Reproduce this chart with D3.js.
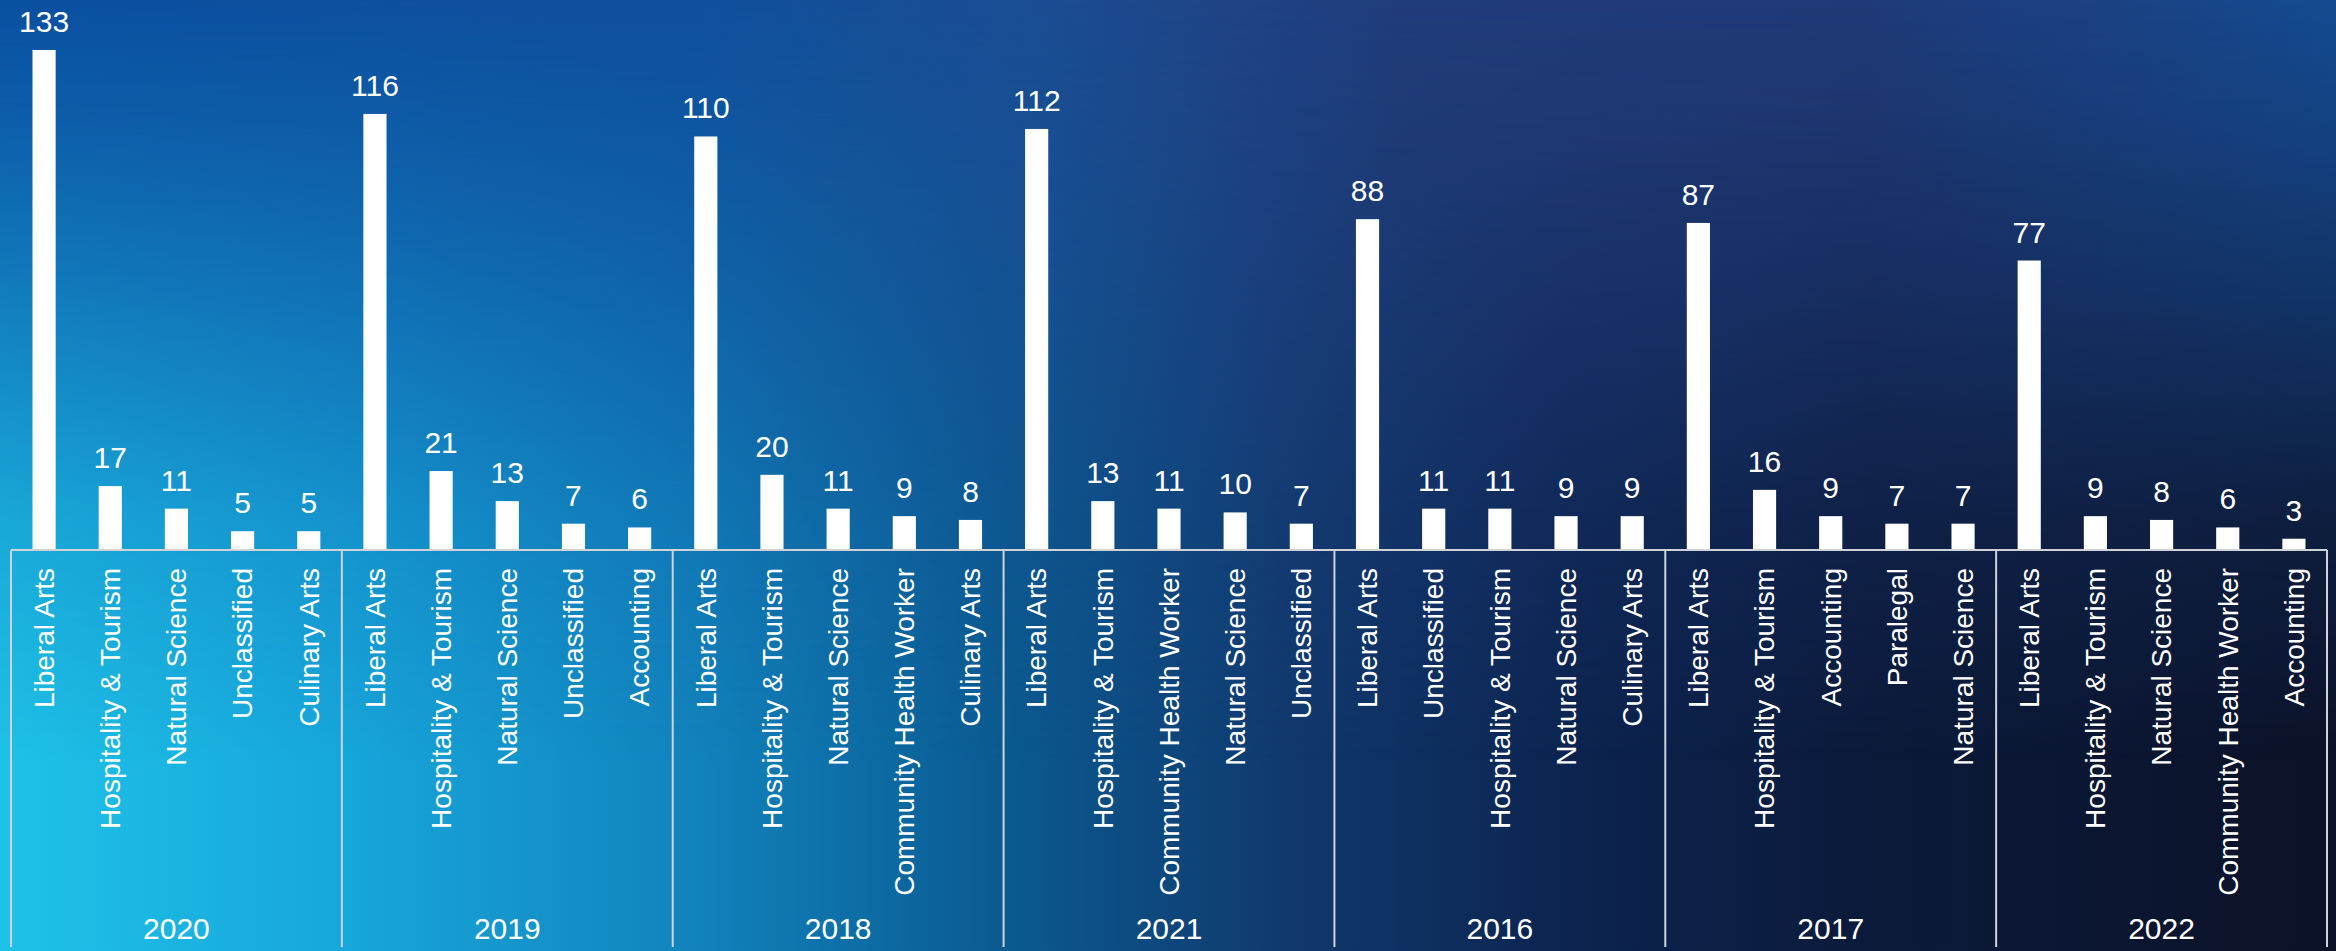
<!DOCTYPE html>
<html>
<head>
<meta charset="utf-8">
<script src="https://cdn.jsdelivr.net/npm/d3@7"></script>
<style>
  html, body { margin: 0; padding: 0; background: #0d1a3a; }
  svg { display: block; }
  text { font-family: "Liberation Sans", Arial, sans-serif; fill: #ffffff; }
</style>
</head>
<body>
<svg id="chart" width="2336" height="951"></svg>
<script>
const years = ["2020", "2019", "2018", "2021", "2016", "2017", "2022"];
const categories = [
  "Liberal Arts", "Hospitality & Tourism", "Natural Science", "Unclassified", "Culinary Arts",
  "Liberal Arts", "Hospitality & Tourism", "Natural Science", "Unclassified", "Accounting",
  "Liberal Arts", "Hospitality & Tourism", "Natural Science", "Community Health Worker", "Culinary Arts",
  "Liberal Arts", "Hospitality & Tourism", "Community Health Worker", "Natural Science", "Unclassified",
  "Liberal Arts", "Unclassified", "Hospitality & Tourism", "Natural Science", "Culinary Arts",
  "Liberal Arts", "Hospitality & Tourism", "Accounting", "Paralegal", "Natural Science",
  "Liberal Arts", "Hospitality & Tourism", "Natural Science", "Community Health Worker", "Accounting"
];
const values = [
  133, 17, 11, 5, 5,
  116, 21, 13, 7, 6,
  110, 20, 11, 9, 8,
  112, 13, 11, 10, 7,
  88, 11, 11, 9, 9,
  87, 16, 9, 7, 7,
  77, 9, 8, 6, 3
];

const W = 2336, H = 951;
const left = 11, right = 2327, baseY = 550, topY = 50, bottomY = 947;

const svg = d3.select("#chart");
const defs = svg.append("defs");

// background: bottom colour row + top colour row blended by a vertical mask
const gBase = defs.append("linearGradient").attr("id", "bgBase")
  .attr("x1", "0").attr("y1", "0").attr("x2", "1").attr("y2", "0");
[[0, "#1ec2e8"], [0.15, "#17a6da"], [0.3, "#1182bc"], [0.43, "#0a5a90"],
 [0.55, "#10396e"], [0.67, "#0c2450"], [0.8, "#0b1a3a"], [1, "#0c1228"]]
  .forEach(([o, c]) => gBase.append("stop").attr("offset", o).attr("stop-color", c));

const gTop = defs.append("linearGradient").attr("id", "bgTop")
  .attr("x1", "0").attr("y1", "0").attr("x2", "1").attr("y2", "0");
[[0, "#0a4fa0"], [0.3, "#0f4f9c"], [0.45, "#1b4c92"], [0.6, "#213c7a"],
 [0.8, "#1f3a78"], [1, "#154a90"]]
  .forEach(([o, c]) => gTop.append("stop").attr("offset", o).attr("stop-color", c));

const gMask = defs.append("linearGradient").attr("id", "bgMaskGrad")
  .attr("x1", "0").attr("y1", "0").attr("x2", "0").attr("y2", "1");
[[0, 1], [0.12, 0.88], [0.3, 0.62], [0.55, 0.22], [0.8, 0]]
  .forEach(([o, a]) => gMask.append("stop").attr("offset", o).attr("stop-color", "#fff").attr("stop-opacity", a));
defs.append("mask").attr("id", "bgMask")
  .append("rect").attr("width", W).attr("height", H).attr("fill", "url(#bgMaskGrad)");

svg.append("rect").attr("width", W).attr("height", H).attr("fill", "url(#bgBase)");
svg.append("rect").attr("width", W).attr("height", H).attr("fill", "url(#bgTop)").attr("mask", "url(#bgMask)");

// scales
const idx = d3.range(values.length);
const x = d3.scaleBand().domain(idx).range([left, right]).paddingInner(0.65).paddingOuter(0.325);
const y = d3.scaleLinear().domain([0, d3.max(values)]).range([baseY, topY]);
const gx = d3.scaleBand().domain(years).range([left, right]);

// bars
svg.append("g").selectAll("rect").data(idx).join("rect")
  .attr("x", i => x(i))
  .attr("y", i => y(values[i]))
  .attr("width", x.bandwidth())
  .attr("height", i => baseY - y(values[i]))
  .attr("fill", "#ffffff");

// value labels
svg.append("g").selectAll("text").data(idx).join("text")
  .attr("x", i => x(i) + x.bandwidth() / 2)
  .attr("y", i => y(values[i]) - 18)
  .attr("text-anchor", "middle")
  .style("font-size", "30px")
  .text(i => values[i]);

// axis lines
const axisColor = "#cfd3d8";
svg.append("line").attr("x1", left).attr("x2", right).attr("y1", baseY).attr("y2", baseY)
  .attr("stroke", axisColor).attr("stroke-width", 2);
const seps = years.map(yr => gx(yr)).concat([right]);
svg.append("g").selectAll("line").data(seps).join("line")
  .attr("x1", d => d).attr("x2", d => d)
  .attr("y1", baseY).attr("y2", bottomY)
  .attr("stroke", axisColor).attr("stroke-width", 2);

// category labels
svg.append("g").selectAll("text").data(idx).join("text")
  .attr("transform", i => `translate(${x(i) + x.bandwidth() / 2},${baseY + 18}) rotate(-90)`)
  .attr("text-anchor", "end")
  .attr("dy", "0.35em")
  .style("font-size", "28px")
  .text(i => categories[i]);

// year labels
svg.append("g").selectAll("text").data(years).join("text")
  .attr("x", d => gx(d) + gx.bandwidth() / 2)
  .attr("y", 939)
  .attr("text-anchor", "middle")
  .style("font-size", "30px")
  .text(d => d);
</script>
</body>
</html>
